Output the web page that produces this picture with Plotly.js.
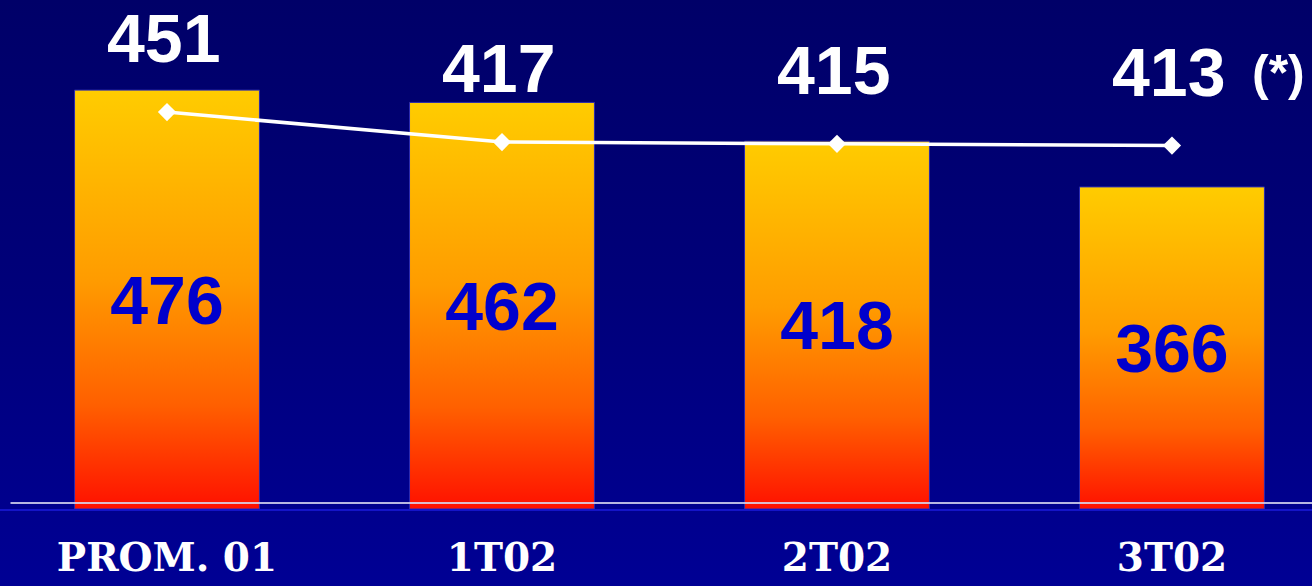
<!DOCTYPE html>
<html>
<head>
<meta charset="utf-8">
<script src="https://cdn.plot.ly/plotly-3.0.1.min.js"></script>
<style>
  html, body { margin: 0; padding: 0; }
  #chart { width: 1312px; height: 586px; background: linear-gradient(to bottom, #000068 0%, #00007a 50%, #000094 100%); }
</style>
</head>
<body>
<div id="chart"></div>
<script>
const categories = ['PROM. 01', '1T02', '2T02', '3T02'];
const barValues = [476, 462, 418, 366];
const lineValues = [451, 417, 415, 413];
const footnoteMark = '(*)';

const gd = document.getElementById('chart');

const barTrace = {
  type: 'bar',
  x: categories,
  y: barValues,
  text: barValues.map(String),
  textposition: 'inside',
  insidetextanchor: 'middle',
  textangle: 0,
  textfont: { family: 'Liberation Sans, Arial, sans-serif', size: 68, color: '#0000cc', weight: 'bold' },
  marker: { color: '#ff9900', line: { color: '#2a2ab0', width: 1 } },
  hoverinfo: 'none',
  cliponaxis: false
};

const lineTrace = {
  type: 'scatter',
  mode: 'lines+markers',
  x: categories,
  y: lineValues,
  line: { color: '#ffffff', width: 3.5 },
  marker: { symbol: 'diamond', size: 14, color: '#ffffff' },
  hoverinfo: 'none',
  cliponaxis: false
};

const annotations = lineValues.map((v, i) => ({
  x: categories[i], y: v, xref: 'x', yref: 'y',
  text: '<b>' + v + '</b>', showarrow: false, yshift: 74, xshift: -3,
  font: { family: 'Liberation Sans, Arial, sans-serif', size: 68, color: '#ffffff' }
}));
annotations.push({
  x: categories[categories.length - 1], y: lineValues[lineValues.length - 1], xref: 'x', yref: 'y',
  text: '<b>' + footnoteMark + '</b>', showarrow: false, yshift: 73, xshift: 107,
  font: { family: 'Liberation Sans, Arial, sans-serif', size: 50, color: '#ffffff' }
});

const layout = {
  width: 1312, height: 586,
  margin: { l: 0, r: 0, t: 0, b: 77 },
  paper_bgcolor: 'rgba(0,0,0,0)',
  plot_bgcolor: 'rgba(0,0,0,0)',
  showlegend: false,
  bargap: 0.448,
  xaxis: {
    type: 'category',
    range: [-0.4985, 3.418],
    showgrid: false, zeroline: false,
    showline: true, linecolor: '#1414c8', linewidth: 2,
    ticks: '', ticklabelstandoff: 13,
    tickfont: { family: 'DejaVu Serif, serif', size: 39, color: '#ffffff', weight: 'bold' }
  },
  yaxis: {
    range: [0, 578.4],
    visible: false, showgrid: false, zeroline: false
  },
  shapes: [{
    type: 'line', xref: 'paper', yref: 'paper', layer: 'above',
    x0: 0.008, x1: 1, y0: 0.0118, y1: 0.0118,
    line: { color: 'rgba(215,215,240,0.85)', width: 2 }
  }],
  annotations: annotations
};

Plotly.newPlot(gd, [barTrace, lineTrace], layout, { staticPlot: true, displayModeBar: false }).then(() => {
  const svg = gd.querySelector('svg.main-svg');
  const ns = 'http://www.w3.org/2000/svg';
  let defs = svg.querySelector('defs');
  if (!defs) { defs = document.createElementNS(ns, 'defs'); svg.insertBefore(defs, svg.firstChild); }
  const grad = document.createElementNS(ns, 'linearGradient');
  grad.setAttribute('id', 'barGrad');
  grad.setAttribute('x1', '0'); grad.setAttribute('y1', '0');
  grad.setAttribute('x2', '0'); grad.setAttribute('y2', '1');
  [['0%', '#ffcc00'], ['45%', '#ff9c00'], ['75%', '#ff6000'], ['100%', '#ff1000']].forEach(([o, c]) => {
    const s = document.createElementNS(ns, 'stop');
    s.setAttribute('offset', o); s.setAttribute('stop-color', c);
    grad.appendChild(s);
  });
  defs.appendChild(grad);
  gd.querySelectorAll('.barlayer .point path').forEach(p => { p.style.fill = 'url(#barGrad)'; });
});
</script>
</body>
</html>
